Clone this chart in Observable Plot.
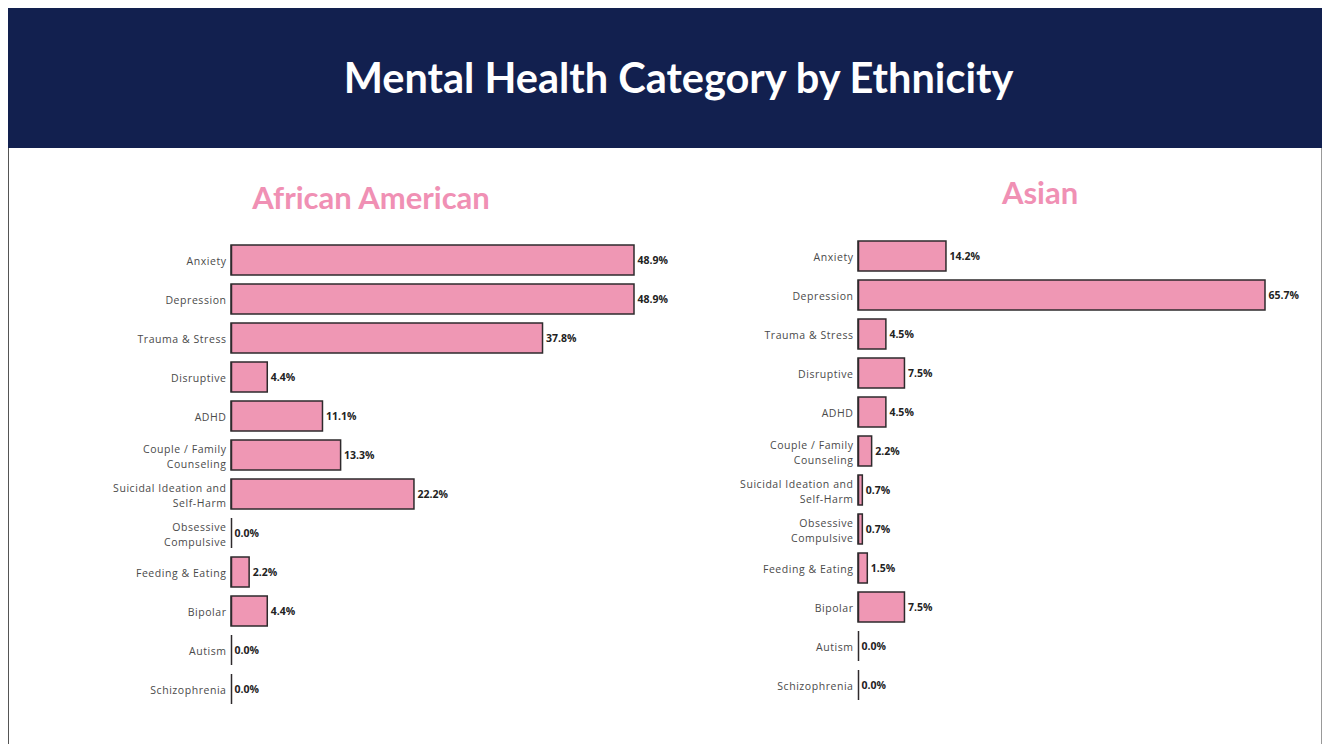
<!DOCTYPE html>
<html>
<head>
<meta charset="utf-8">
<script src="https://cdn.jsdelivr.net/npm/d3@7"></script>
<script src="https://cdn.jsdelivr.net/npm/@observablehq/plot@0.6"></script>
<style>
  html, body { margin: 0; padding: 0; background: #fff; }
  body { width: 1327px; height: 744px; position: relative; overflow: hidden; font-family: "Open Sans", sans-serif; }
  #band { position: absolute; left: 8px; top: 8px; width: 1314px; height: 140px; background: #12204f; }
  #title { position: absolute; left: 0; width: 1357px; top: 53px; text-align: center; color: #fff; font-family: Lato, sans-serif; font-weight: 700; font-size: 41.5px; line-height: 48px; }
  .ptitle { position: absolute; color: #f090b4; font-family: Lato, sans-serif; font-weight: 700; font-size: 31px; transform: translateX(-50%); white-space: nowrap; }
  #frameL { position: absolute; left: 8px; top: 148px; width: 1px; height: 596px; background: #555; }
  #frameR { position: absolute; left: 1321px; top: 148px; width: 1px; height: 596px; background: #999; }
  .chart { position: absolute; }
</style>
</head>
<body>
<div id="band"></div>
<div id="frameL"></div>
<div id="frameR"></div>
<div id="title">Mental Health Category by Ethnicity</div>
<div class="ptitle" style="left:371px; top:178px;">African American</div>
<div class="ptitle" style="left:1040px; top:173px;">Asian</div>
<div id="left" class="chart" style="left:0px; top:219px;"></div>
<div id="right" class="chart" style="left:700px; top:214px;"></div>
<script>
const categories = ["Anxiety", "Depression", "Trauma & Stress", "Disruptive", "ADHD", "Couple / Family Counseling", "Suicidal Ideation and Self-Harm", "Obsessive Compulsive", "Feeding & Eating", "Bipolar", "Autism", "Schizophrenia"];
const categoryLabels = ["Anxiety", "Depression", "Trauma & Stress", "Disruptive", "ADHD", "Couple / Family\nCounseling", "Suicidal Ideation and\nSelf-Harm", "Obsessive\nCompulsive", "Feeding & Eating", "Bipolar", "Autism", "Schizophrenia"];
const africanAmerican = [48.9, 48.9, 37.8, 4.4, 11.1, 13.3, 22.2, 0.0, 2.2, 4.4, 0.0, 0.0];
const asian = [14.2, 65.7, 4.5, 7.5, 4.5, 2.2, 0.7, 0.7, 1.5, 7.5, 0.0, 0.0];

function panel(values, opts) {
  const data = categories.map((c, i) => ({cat: c, label: categoryLabels[i], value: values[i]}));
  const maxV = d3.max(values);
  const svg = Plot.plot({
    width: opts.width,
    height: opts.height,
    marginLeft: opts.marginLeft,
    marginRight: opts.marginRight,
    marginTop: 20,
    marginBottom: 20,
    style: {fontFamily: "'Open Sans', sans-serif", fontSize: "10.5px", background: "transparent"},
    x: {domain: [0, maxV], axis: null},
    y: {domain: categories, axis: null, paddingInner: 0.22, paddingOuter: 0.11},
    marks: [
      Plot.barX(data, {x: "value", y: "cat", fill: "#ef97b4", stroke: "#2e2a2c", strokeWidth: 1.5}),
      Plot.tickX(data, {x: 0, y: "cat", stroke: "#2e2a2c", strokeWidth: 1.5}),
      Plot.text(data, {x: 0, y: "cat", text: "label", textAnchor: "end", dx: -5, lineHeight: 1.4, fill: "#4a4a4a"}),
      Plot.text(data, {x: "value", y: "cat", text: d => d.value.toFixed(1) + "%", textAnchor: "start", dx: 3, fontWeight: "bold", fill: "#222"})
    ]
  });
  const textGroups = svg.querySelectorAll('g[aria-label="text"]');
  if (textGroups.length) textGroups[0].setAttribute("letter-spacing", "0.55px");
  return svg;
}

document.getElementById("left").append(panel(africanAmerican, {width: 694, height: 512, marginLeft: 231, marginRight: 60}));
document.getElementById("right").append(panel(asian, {width: 615, height: 513, marginLeft: 158, marginRight: 50}));
</script>
</body>
</html>
